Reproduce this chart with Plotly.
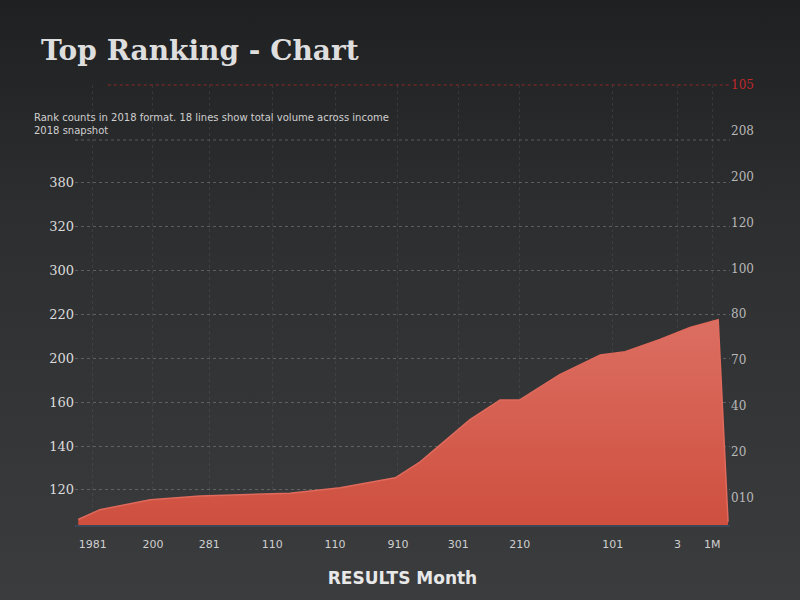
import plotly.graph_objects as go
import urllib.parse

# ---- data ----
x_vals = [0.5, 3.8, 11.5, 19.1, 32.8, 40.5, 48.9, 52.7, 60.3, 64.9, 67.9, 74.0, 80.2, 84.0, 89.3, 93.9, 98.2, 99.7]
y_vals = [93, 102, 111, 114.5, 117, 122, 131, 145.5, 184, 202, 202, 225, 243, 246, 257, 268, 275, 91]

x_tickvals = [2.7, 11.9, 20.5, 30.1, 39.7, 49.3, 58.5, 67.9, 82.1, 92.0, 97.3]
x_ticktext = ["1981", "200", "281", "110", "110", "910", "301", "210", "101", "3", "1M"]

left_tickvals = [120, 160, 200, 240, 280, 320, 360, 400]
left_ticktext = ["120", "140", "160", "200", "220", "300", "320", "380"]

right_tickvals = [0, 25, 50, 75, 100, 125, 150, 175, 200, 225]
right_ticktext = ["010", "20", "40", "70", "80", "100", "120", "200", "208",
                  "<span style='color:#c0282a'>105</span>"]

title_text = "Top Ranking - Chart"
subtitle_text = "Rank counts in 2018 format. 18 lines show total volume across income<br>2018 snapshot"
xaxis_title = "<b>RESULTS Month</b>"

# background gradient (style only)
svg = ("<svg xmlns='http://www.w3.org/2000/svg' width='800' height='600'>"
       "<defs><linearGradient id='g' x1='0' y1='0' x2='0' y2='1'>"
       "<stop offset='0' stop-color='#1f2022'/>"
       "<stop offset='0.35' stop-color='#2d2e30'/>"
       "<stop offset='1' stop-color='#3b3c3e'/>"
       "</linearGradient></defs>"
       "<rect width='800' height='600' fill='url(#g)'/></svg>")
bg_uri = "data:image/svg+xml;charset=utf-8," + urllib.parse.quote(svg)

fig = go.Figure()

fig.add_trace(go.Scatter(
    x=x_vals, y=y_vals,
    mode="lines",
    line=dict(color="#e06a5c", width=1.5),
    fill="tozeroy",
    fillgradient=dict(type="vertical",
                      colorscale=[[0, "#c8412e"], [1, "#dc6e62"]]),
    hoverinfo="skip",
    showlegend=False,
))

# invisible trace on the right axis so it renders
fig.add_trace(go.Scatter(x=[0], y=[0], yaxis="y2", mode="markers",
                         marker=dict(opacity=0), showlegend=False, hoverinfo="skip"))

fig.update_layout(
    width=800, height=600,
    paper_bgcolor="#2d2e30",
    plot_bgcolor="rgba(0,0,0,0)",
    margin=dict(l=75, r=70, t=85, b=75),
    font=dict(family="DejaVu Sans", color="#d8d8d8"),
    images=[dict(source=bg_uri, xref="paper", yref="paper", x=-75/655, y=1 + 85/440,
                 sizex=800/655, sizey=600/440, xanchor="left", yanchor="top",
                 sizing="stretch", layer="below")],
    xaxis=dict(
        range=[0, 100],
        tickvals=x_tickvals, ticktext=x_ticktext,
        tickfont=dict(size=11, color="#cfcfcf"),
        showgrid=True, gridcolor="rgba(120,120,125,0.22)", griddash="dot", gridwidth=1,
        zeroline=False,
        showline=True, linecolor="#3c4656", linewidth=2,
        ticks="", ticklabelstandoff=8,
        title=dict(text=xaxis_title, font=dict(size=17, color="#e8e8e8"), standoff=22),
    ),
    yaxis=dict(
        range=[88, 489],
        tickvals=left_tickvals, ticktext=left_ticktext,
        tickfont=dict(size=13, color="#dcdcdc", family="DejaVu Serif"),
        showgrid=True, gridcolor="rgba(150,150,155,0.45)", griddash="dot", gridwidth=1,
        zeroline=False, showline=False, ticks="",
    ),
    yaxis2=dict(
        overlaying="y", side="right",
        range=[-15, 225],
        tickvals=right_tickvals, ticktext=right_ticktext,
        tickfont=dict(size=12, color="#b8b8b8", family="DejaVu Serif"),
        showgrid=False, zeroline=False, showline=False, ticks="",
    ),
    shapes=[
        dict(type="line", xref="paper", yref="paper", x0=0.05, x1=1.0, y0=1.0, y1=1.0,
             line=dict(color="rgba(170,40,40,0.8)", width=1, dash="dot")),
        dict(type="line", xref="paper", yref="paper", x0=0.0, x1=1.0, y0=0.875, y1=0.875,
             line=dict(color="rgba(150,150,155,0.45)", width=1, dash="dot")),
    ],
    annotations=[
        dict(text="<b>" + title_text + "</b>", xref="paper", yref="paper", x=-0.055, y=1.0,
             xanchor="left", yanchor="middle", yshift=35, showarrow=False,
             font=dict(size=28, color="#dedede", family="DejaVu Serif")),
        dict(text=subtitle_text, xref="paper", yref="paper", x=-0.065, y=0.875,
             xanchor="left", yanchor="bottom", yshift=2, showarrow=False, align="left",
             font=dict(size=10, color="#cfcfcf")),
    ],
)

fig.write_html("out.html")
